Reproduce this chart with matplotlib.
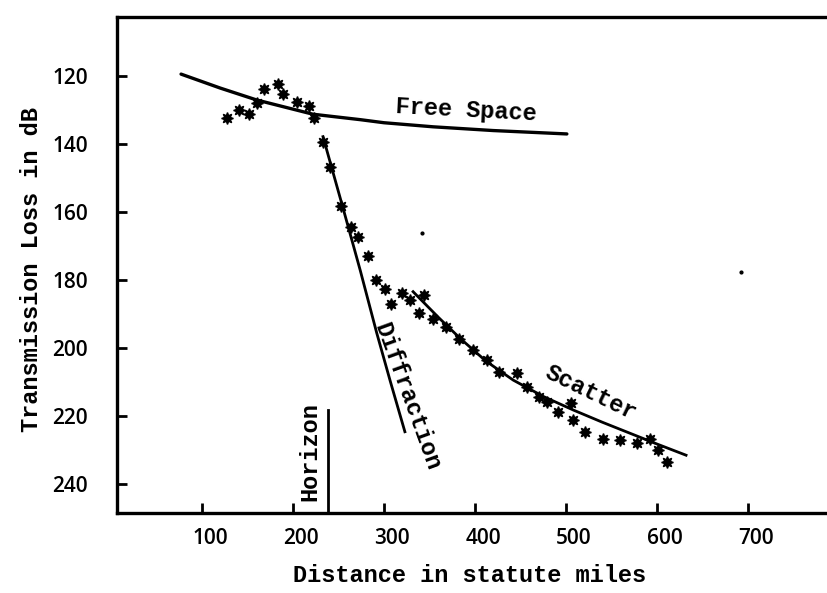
import matplotlib
matplotlib.use('Agg')
from matplotlib import pyplot as plt
from matplotlib.transforms import ScaledTranslation

# curves (miles, dB)
free_x = [77, 120, 160, 222, 274, 300, 354, 420, 501]
free_y = [119.4, 123.5, 127.0, 131.2, 132.8, 133.7, 134.9, 136.0, 137.0]

diff_x = [233, 255, 274, 292, 307, 323]
diff_y = [137.8, 158.8, 177.2, 195.5, 209.8, 224.6]

scat_x = [332, 360, 384, 412, 442, 475, 508, 540, 570, 600, 632]
scat_y = [183.4, 191.0, 197.2, 203.8, 209.4, 214.2, 218.2, 221.8, 225.0, 228.2, 231.5]

horizon_x = 239
horizon_top = 218.2

# measured points
pts_x = [127, 141, 152, 160, 168, 184, 189, 204, 218, 223,
         233, 241, 253, 264, 272, 282, 291, 301, 308, 320, 329, 339, 344,
         354, 368, 383, 398, 413, 426, 446, 457, 470, 479, 491, 506, 508,
         521, 541, 559, 578, 592, 601, 611]
pts_y = [132.4, 130.0, 131.2, 127.8, 123.9, 122.4, 125.3, 127.7, 128.7, 132.4,
         139.3, 146.7, 158.2, 164.3, 167.2, 172.9, 180.0, 182.7, 186.9, 183.7, 185.9, 189.8, 184.4,
         191.3, 193.7, 197.2, 200.6, 203.5, 207.0, 207.4, 211.4, 214.3, 215.8, 218.7, 216.0, 221.2,
         224.6, 226.6, 227.0, 228.0, 226.6, 230.0, 233.4]

# stray specks on the scan
speck_x = [342, 692]
speck_y = [166.0, 177.7]

xticks = [100, 200, 300, 400, 500, 600, 700]
yticks = [120, 140, 160, 180, 200, 220, 240]

mono = 'Liberation Mono'

fig = plt.figure(figsize=(8.28, 5.93), dpi=100)
ax = fig.add_axes([117 / 828, 80 / 593, 1 - 117 / 828, 496 / 593])

ax.plot(free_x, free_y, color='black', lw=2.4, solid_capstyle='round')
ax.plot(diff_x, diff_y, color='black', lw=2.0)
ax.plot(scat_x, scat_y, color='black', lw=2.0)
ax.plot([horizon_x, horizon_x], [horizon_top, 260], color='black', lw=2.0)
ax.plot(pts_x, pts_y, ls='none', marker=(8, 1, 0), ms=8.5, color='black')
ax.plot(speck_x, speck_y, ls='none', marker='o', ms=2, color='black')

ax.set_xlim(6.6, 788)
ax.set_ylim(248.5, 102.6)

ax.set_xticks(xticks)
ax.set_yticks(yticks)
ax.tick_params(direction='in', length=7, width=2)
ax.tick_params(axis='x', pad=11)
ax.tick_params(axis='y', pad=21)
for lab in ax.get_xticklabels() + ax.get_yticklabels():
    lab.set_fontfamily('Open Sans')
    lab.set_fontweight('semibold')
    lab.set_fontsize(15)
shift = ScaledTranslation(8 / 100, 0, fig.dpi_scale_trans)
for lab in ax.get_xticklabels():
    lab.set_transform(lab.get_transform() + shift)

for side in ['left', 'bottom', 'top']:
    ax.spines[side].set_linewidth(2.4)
ax.spines['right'].set_visible(False)

ax.text(390, 130, 'Free Space', family=mono, weight='bold', fontsize=17,
        rotation=-3, ha='center', va='center')
ax.text(326, 214.4, 'Diffraction', family=mono, weight='bold', fontsize=17,
        rotation=-70, ha='center', va='center', rotation_mode='anchor')
ax.text(527.5, 213.2, 'Scatter', family=mono, weight='bold', fontsize=17,
        rotation=-26, ha='center', va='center', rotation_mode='anchor')
ax.text(218.7, 230.3, 'Horizon', family=mono, weight='bold', fontsize=17,
        rotation=90, ha='center', va='center')

fig.text(470 / 828, 1 - 575 / 593, 'Distance in statute miles', family=mono,
         weight='bold', fontsize=17, ha='center', va='center')
fig.text(32 / 828, 1 - 270 / 593, 'Transmission Loss in dB', family=mono,
         weight='bold', fontsize=17, ha='center', va='center', rotation=90)

fig.savefig('out.png', dpi=100)
